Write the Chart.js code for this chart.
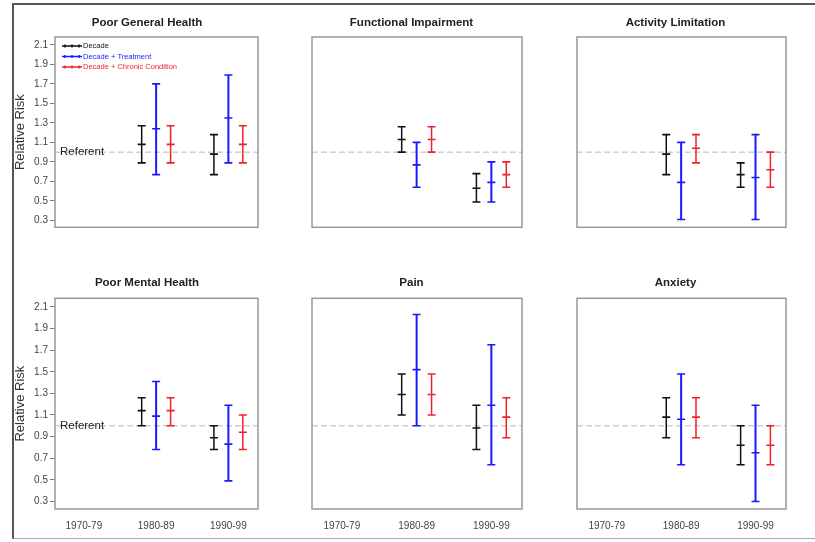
<!DOCTYPE html>
<html>
<head>
<meta charset="utf-8">
<script src="https://cdn.jsdelivr.net/npm/chart.js"></script>
<style>
  html, body { margin: 0; padding: 0; background: #fff; overflow: hidden; }
  #page { position: relative; width: 815px; height: 542px; }
  #frame { position: absolute; left: 12px; top: 3px; width: 820px; height: 533px;
    border-left: 2px solid #555; border-top: 2px solid #555; border-bottom: 1px solid #aaa; }
  canvas { position: absolute; }
</style>
</head>
<body>
<div id="page">
  <div id="frame"></div>
  <canvas id="c0"></canvas><canvas id="c1"></canvas><canvas id="c2"></canvas>
  <canvas id="c3"></canvas><canvas id="c4"></canvas><canvas id="c5"></canvas>
</div>
<script>
// categories and tick labels
const decades = ['1970-79', '1980-89', '1990-99'];
const plottedDecades = ['1980-89', '1990-99']; // 1970-79 is the referent
const seriesNames = ['Decade', 'Decade + Treatment', 'Decade + Chronic Condition'];
const yTicks = [0.3, 0.5, 0.7, 0.9, 1.1, 1.3, 1.5, 1.7, 1.9, 2.1];
const referent = 1.0;

// rows = Decade, Decade + Treatment, Decade + Chronic Condition; cols = 1980-89, 1990-99
const generalEst  = [[1.08, 0.98], [1.24, 1.35], [1.08, 1.08]];
const generalLow  = [[0.89, 0.77], [0.77, 0.89], [0.89, 0.89]];
const generalHigh = [[1.27, 1.18], [1.70, 1.79], [1.27, 1.27]];

const functionalEst  = [[1.13, 0.63], [0.87, 0.69], [1.13, 0.77]];
const functionalLow  = [[1.00, 0.49], [0.64, 0.49], [1.00, 0.64]];
const functionalHigh = [[1.26, 0.78], [1.10, 0.90], [1.26, 0.90]];

const activityEst  = [[0.98, 0.77], [0.69, 0.74], [1.04, 0.82]];
const activityLow  = [[0.77, 0.64], [0.31, 0.31], [0.89, 0.64]];
const activityHigh = [[1.18, 0.89], [1.10, 1.18], [1.18, 1.00]];

const mentalEst  = [[1.14, 0.89], [1.09, 0.83], [1.14, 0.94]];
const mentalLow  = [[1.00, 0.78], [0.78, 0.49], [1.00, 0.78]];
const mentalHigh = [[1.26, 1.00], [1.41, 1.19], [1.26, 1.10]];

const painEst  = [[1.29, 0.98], [1.52, 1.19], [1.29, 1.08]];
const painLow  = [[1.10, 0.78], [1.00, 0.64], [1.10, 0.89]];
const painHigh = [[1.48, 1.19], [2.03, 1.75], [1.48, 1.26]];

const anxietyEst  = [[1.08, 0.82], [1.06, 0.75], [1.08, 0.82]];
const anxietyLow  = [[0.89, 0.64], [0.64, 0.30], [0.89, 0.64]];
const anxietyHigh = [[1.26, 1.00], [1.48, 1.19], [1.26, 1.00]];

const panels = [
  { title: 'Poor General Health', est: generalEst, low: generalLow, high: generalHigh },
  { title: 'Functional Impairment', est: functionalEst, low: functionalLow, high: functionalHigh },
  { title: 'Activity Limitation', est: activityEst, low: activityLow, high: activityHigh },
  { title: 'Poor Mental Health', est: mentalEst, low: mentalLow, high: mentalHigh },
  { title: 'Pain', est: painEst, low: painLow, high: painHigh },
  { title: 'Anxiety', est: anxietyEst, low: anxietyLow, high: anxietyHigh }
];

// styling / layout
const FONT = 'Liberation Sans';
const colors = ['#111111', '#1a1aff', '#f0202a'];
const lineWidths = [1.5, 2, 1.5];
const seriesOffset = [-0.2, 0, 0.2];
const xMin = 0.6, xMax = 3.41;
const yMin = 0.23, yMax = 2.18;

const cols = [
  { left: 13, width: 268, yW: 42, rW: 23 },
  { left: 271, width: 281, yW: 41, rW: 30 },
  { left: 536, width: 279, yW: 41, rW: 29 }
];
const rows = [
  { top: 8, height: 250, padTop: 8, padBottom: 7.2, bottom: 9.7, showX: false },
  { top: 268, height: 262, padTop: 8.4, padBottom: 8.1, bottom: 0, showX: true }
];

function seriesData(p, s) {
  const pts = [];
  plottedDecades.forEach((dec, d) => {
    const x = decades.indexOf(dec) + 1 + seriesOffset[s];
    pts.push({ x, y: p.low[s][d] }, { x, y: p.est[s][d] }, { x, y: p.high[s][d] }, { x, y: null });
  });
  return pts;
}

// plot box, "Referent" label and the small in-plot legend
const framePlugin = {
  id: 'frame',
  afterDatasetsDraw(chart, args, opts) {
    const { ctx, chartArea: a, scales } = chart;
    ctx.save();
    ctx.strokeStyle = '#999';
    ctx.lineWidth = 1.5;
    ctx.strokeRect(a.left, a.top, a.right - a.left, a.bottom - a.top);
    if (opts.referent) {
      ctx.font = '11.5px "' + FONT + '"';
      ctx.fillStyle = '#222';
      ctx.textBaseline = 'middle';
      ctx.fillText('Referent', a.left + 5, scales.y.getPixelForValue(referent));
    }
    if (opts.legend) {
      ctx.font = '7.5px "' + FONT + '"';
      ctx.textBaseline = 'middle';
      chart.data.datasets.slice(0, seriesNames.length).forEach((ds, k) => {
        const y = a.top + 9 + k * 10.5;
        const x0 = a.left + 7;
        ctx.strokeStyle = ds.borderColor;
        ctx.lineWidth = 1.5;
        ctx.beginPath();
        ctx.moveTo(x0, y); ctx.lineTo(x0 + 20, y);
        [x0 + 3, x0 + 10, x0 + 17].forEach(tx => { ctx.moveTo(tx, y - 1.5); ctx.lineTo(tx, y + 1.5); });
        ctx.stroke();
        ctx.fillStyle = ds.borderColor;
        ctx.fillText(ds.label, x0 + 21, y);
      });
    }
    ctx.restore();
  }
};

panels.forEach((p, i) => {
  const col = cols[i % 3], row = rows[Math.floor(i / 3)];
  const firstCol = i % 3 === 0;
  const canvas = document.getElementById('c' + i);
  canvas.width = col.width; canvas.height = row.height;
  canvas.style.left = col.left + 'px'; canvas.style.top = row.top + 'px';
  canvas.style.width = col.width + 'px'; canvas.style.height = row.height + 'px';

  const datasets = seriesNames.map((name, s) => ({
    label: name,
    data: seriesData(p, s),
    borderColor: colors[s],
    backgroundColor: colors[s],
    borderWidth: lineWidths[s],
    pointStyle: 'line',
    pointRadius: 4,
    pointBorderWidth: 1.6,
    pointBorderColor: colors[s],
    spanGaps: false,
    tension: 0
  }));
  datasets.push({
    data: [{ x: xMin, y: referent }, { x: xMax, y: referent }],
    borderColor: '#b8b8b8',
    borderWidth: 1,
    borderDash: [6, 3],
    pointRadius: 0
  });

  new Chart(canvas, {
    type: 'line',
    data: { datasets },
    plugins: [framePlugin],
    options: {
      responsive: false,
      animation: false,
      devicePixelRatio: 1,
      layout: { padding: { top: 0, left: 0, right: 0, bottom: row.bottom } },
      scales: {
        x: {
          type: 'linear', min: xMin, max: xMax,
          display: row.showX,
          grid: { display: false }, border: { display: false },
          afterBuildTicks: axis => { axis.ticks = decades.map((d, k) => ({ value: k + 1 })); },
          afterFit: axis => { axis.height = 21; },
          ticks: {
            autoSkip: false, maxRotation: 0, padding: 3, color: '#444',
            font: { family: FONT, size: 10 },
            callback: v => decades[Math.round(v) - 1]
          }
        },
        y: {
          type: 'linear', min: yMin, max: yMax, position: 'left',
          afterBuildTicks: axis => { axis.ticks = yTicks.map(v => ({ value: v })); },
          afterFit: axis => { axis.width = col.yW; },
          grid: { display: firstCol, drawOnChartArea: false, drawTicks: true, tickLength: 5, color: '#777' },
          border: { display: false },
          ticks: {
            display: firstCol, padding: 2, color: '#444',
            font: { family: FONT, size: 10 },
            callback: v => v.toFixed(1)
          },
          title: {
            display: firstCol, text: 'Relative Risk', color: '#333',
            font: { family: FONT, size: 13 }, padding: { top: 0, bottom: 0 }
          }
        },
        yR: {
          type: 'linear', position: 'right',
          afterFit: axis => { axis.width = col.rW; },
          grid: { display: false }, border: { display: false },
          ticks: { display: false }
        }
      },
      plugins: {
        frame: { referent: firstCol, legend: i === 0 },
        tooltip: { enabled: false },
        legend: { display: false },
        title: {
          display: true, text: p.title, color: '#222',
          font: { family: FONT, size: 11.5, weight: 'bold' },
          padding: { top: row.padTop, bottom: row.padBottom }
        }
      }
    }
  });
});
</script>
</body>
</html>
